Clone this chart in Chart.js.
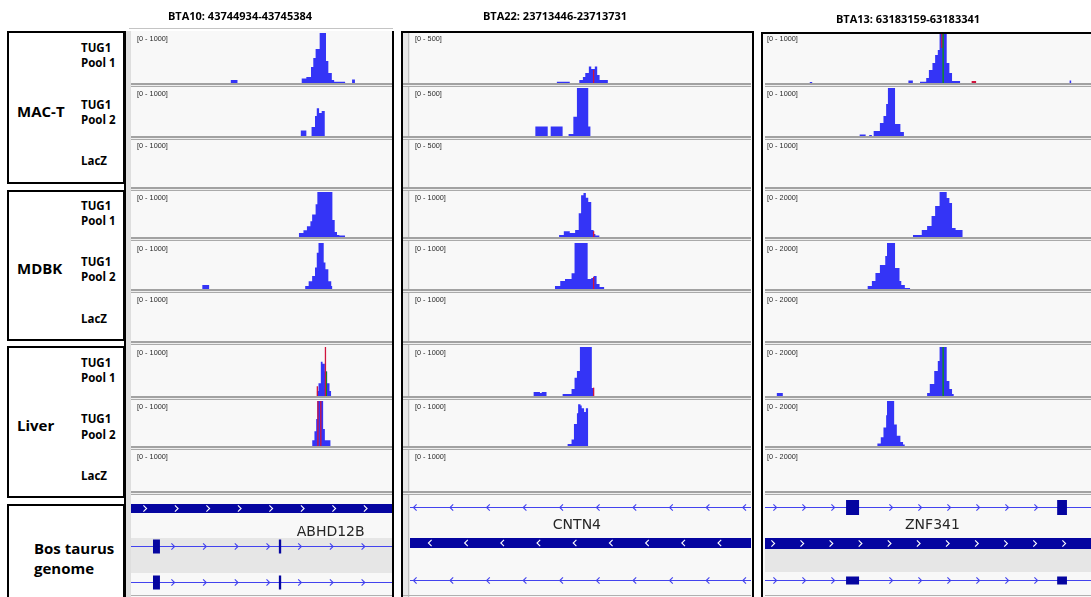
<!DOCTYPE html>
<html>
<head>
<meta charset="utf-8">
<script src="https://cdn.jsdelivr.net/npm/chart.js@4.4.1/dist/chart.umd.min.js"></script>
<style>
  html, body { margin: 0; padding: 0; background: #fff; }
  #fig { position: relative; width: 1091px; height: 597px; overflow: hidden; background: #fff; }
  .abs { position: absolute; box-sizing: border-box; }
  .t { position: absolute; white-space: nowrap; }
  canvas { position: absolute; display: block; }
</style>
</head>
<body>
<div id="fig"></div>
<script>
// ---------------- data ----------------
const REGIONS = ['BTA10: 43744934-43745384', 'BTA22: 23713446-23713731', 'BTA13: 63183159-63183341'];
const CELL_LINES = ['MAC-T', 'MDBK', 'Liver'];
const SAMPLES = [['TUG1', 'Pool 1'], ['TUG1', 'Pool 2'], ['LacZ']];
const GENOME_LABEL = ['Bos taurus', 'genome'];
const GENES = ['ABHD12B', 'CNTN4', 'ZNF341'];
const GENE_STRANDS = ['+', '-', '+'];

// data range of each track (MAC-T P1, P2, LacZ, MDBK P1, P2, LacZ, Liver P1, P2, LacZ)
const RANGES_BTA10 = [1000, 1000, 1000, 1000, 1000, 1000, 1000, 1000, 1000];
const RANGES_BTA22 = [500, 500, 500, 1000, 1000, 1000, 1000, 1000, 1000];
const RANGES_BTA13 = [1000, 1000, 1000, 2000, 2000, 2000, 2000, 2000, 2000];

// coverage profiles: [offset from region start (bp), read depth], each depth holds until the next offset
const BTA10_MACT_P1 = [[172, 60], [184, 0], [295, 90], [303, 120], [311, 320], [315, 500], [319, 680], [326, 1100], [337, 440], [341, 200], [347, 60], [351, 25], [370, 0], [382, 70], [387, 0]];
const BTA10_MACT_P2 = [[293, 115], [303, 0], [312, 190], [318, 415], [321, 580], [325, 480], [329.5, 520], [335, 0]];
const BTA10_MACT_LACZ = [];
const BTA10_MDBK_P1 = [[290, 90], [298, 150], [304, 240], [310, 350], [313, 500], [319, 730], [322, 1100], [348, 380], [352, 110], [356, 45], [360, 35], [370, 0]];
const BTA10_MDBK_P2 = [[123, 85], [135, 0], [301, 65], [307, 170], [313, 280], [318, 470], [321, 790], [324, 1100], [333, 575], [336, 430], [341, 170], [346, 65], [348, 0]];
const BTA10_MDBK_LACZ = [];
const BTA10_LIVER_P1 = [[321, 100], [324, 260], [328, 700], [331, 660], [335, 500], [339, 260], [343, 100], [346, 0]];
const BTA10_LIVER_P2 = [[313, 130], [317, 330], [320, 600], [322, 1100], [332, 380], [335, 130], [345, 0]];
const BTA10_LIVER_LACZ = [];

const BTA22_MACT_P1 = [[123, 12], [134, 0], [142, 30], [145, 60], [147, 100], [150, 165], [152, 140], [155, 165], [157, 80], [159, 30], [166, 0]];
const BTA22_MACT_P2 = [[105, 100], [115.5, 0], [118, 100], [128, 0], [133, 22], [137, 200], [140, 600], [149.5, 100], [151.5, 0]];
const BTA22_MACT_LACZ = [];
const BTA22_MDBK_P1 = [[125, 45], [129, 130], [134, 90], [138.5, 155], [141.5, 530], [143.5, 930], [145.5, 980], [147.5, 870], [149.5, 780], [152, 155], [154, 65], [155.5, 35], [159, 0]];
const BTA22_MDBK_P2 = [[121.5, 65], [126, 175], [130, 220], [135.5, 345], [138, 1100], [149, 215], [152, 240], [154, 280], [156.5, 110], [159, 45], [163, 0]];
const BTA22_MDBK_LACZ = [];
const BTA22_LIVER_P1 = [[103.5, 80], [109, 60], [110.5, 80], [114.5, 0], [128, 40], [135.5, 145], [138, 370], [140, 510], [142.5, 1100], [152.5, 165], [154.5, 0]];
const BTA22_LIVER_P2 = [[132, 45], [135.5, 145], [137.5, 490], [140, 730], [141, 930], [143, 900], [144, 840], [146, 755], [147.5, 840], [149.5, 0]];
const BTA22_LIVER_LACZ = [];

const BTA13_MACT_P1 = [[25, 20], [26.5, 0], [80.5, 50], [83, 0], [87, 25], [90.5, 100], [92, 260], [94, 400], [95.5, 560], [97, 660], [98, 1100], [102, 400], [103.5, 200], [105, 40], [109.5, 0], [171, 50], [172, 0]];
const BTA13_MACT_P2 = [[53, 30], [56.5, 0], [58.5, 20], [60, 0], [61, 105], [64.5, 270], [66.5, 415], [68, 665], [69, 1100], [73, 250], [76, 85], [78, 0]];
const BTA13_MACT_LACZ = [];
const BTA13_MDBK_P1 = [[83, 90], [88, 310], [91, 490], [93.5, 930], [95.5, 1380], [98, 2200], [102, 1730], [103.5, 1510], [105, 400], [107, 310], [111, 0]];
const BTA13_MDBK_P2 = [[57.5, 130], [60, 350], [62, 700], [64.5, 1040], [67.5, 1435], [68.5, 2200], [73, 910], [75.5, 350], [76.5, 175], [78.5, 45], [81.5, 0]];
const BTA13_MDBK_LACZ = [];
const BTA13_LIVER_P1 = [[6.5, 120], [10, 0], [91, 120], [92.5, 490], [95, 1020], [97, 1430], [98, 2200], [102, 610], [103.5, 285], [105, 80], [106, 0]];
const BTA13_LIVER_P2 = [[63, 115], [65, 385], [66.5, 820], [68, 1365], [68.5, 2200], [72.5, 955], [74, 455], [76, 180], [77.5, 70], [78.5, 0]];
const BTA13_LIVER_LACZ = [];

// mismatched bases: [start bp, end bp, depth from, depth to, base]
const MM_BTA10_LIVER_P1 = [[335.5, 336.5, 0, 1100, 'T'], [337, 338, 0, 500, 'A'], [321.5, 322.5, 0, 200, 'T']];
const MM_BTA10_LIVER_P2 = [[322.5, 323.5, 0, 1100, 'T'], [327.5, 328.5, 0, 1100, 'T']];
const MM_BTA22_MACT_P1 = [[153.5, 154.5, 0, 130, 'T']];
const MM_BTA22_MDBK_P1 = [[153.5, 154.5, 0, 130, 'T']];
const MM_BTA22_MDBK_P2 = [[153.5, 154.5, 0, 260, 'T']];
const MM_BTA22_LIVER_P1 = [[153.5, 154.5, 0, 170, 'T']];
const MM_BTA13_MACT_P1 = [[99.7, 100.3, 0, 1100, 'A'], [99.0, 99.6, 700, 1100, 'T'], [116, 118.5, 0, 40, 'T']];
const MM_BTA13_LIVER_P1 = [[99.7, 100.3, 0, 2200, 'A']];

// gene models (bp offsets within each region)
const ABHD12B_EXONS = [[38, 50], [255.5, 259.5]];
const CNTN4_EXONS = [];
const ZNF341_EXONS = [[45.5, 52.8], [164, 169.5]];
const GENE_LABEL_BP = [345, 140, 94];

// ---------------- tables built from the arrays above ----------------
const RANGES = [RANGES_BTA10, RANGES_BTA22, RANGES_BTA13];
const COVERAGE = [
  [BTA10_MACT_P1, BTA10_MACT_P2, BTA10_MACT_LACZ, BTA10_MDBK_P1, BTA10_MDBK_P2, BTA10_MDBK_LACZ, BTA10_LIVER_P1, BTA10_LIVER_P2, BTA10_LIVER_LACZ],
  [BTA22_MACT_P1, BTA22_MACT_P2, BTA22_MACT_LACZ, BTA22_MDBK_P1, BTA22_MDBK_P2, BTA22_MDBK_LACZ, BTA22_LIVER_P1, BTA22_LIVER_P2, BTA22_LIVER_LACZ],
  [BTA13_MACT_P1, BTA13_MACT_P2, BTA13_MACT_LACZ, BTA13_MDBK_P1, BTA13_MDBK_P2, BTA13_MDBK_LACZ, BTA13_LIVER_P1, BTA13_LIVER_P2, BTA13_LIVER_LACZ]
];
const MISMATCHES = [
  [[], [], [], [], [], [], MM_BTA10_LIVER_P1, MM_BTA10_LIVER_P2, []],
  [MM_BTA22_MACT_P1, [], [], MM_BTA22_MDBK_P1, MM_BTA22_MDBK_P2, [], MM_BTA22_LIVER_P1, [], []],
  [MM_BTA13_MACT_P1, [], [], [], [], [], MM_BTA13_LIVER_P1, [], []]
];
const GENE_EXONS = [ABHD12B_EXONS, CNTN4_EXONS, ZNF341_EXONS];
const REGION_LEN = REGIONS.map(s => { const m = s.match(/(\d+)-(\d+)/); return +m[2] - +m[1] + 1; });

// ---------------- styling / layout ----------------
const COV_COLOR = '#3434f6';
const BASE_COLORS = { A: '#0a9a0a', T: '#d0143c', C: '#1414d0', G: '#d18f00' };
const EXON_COLOR = '#0505a0';
const INTRON_COLOR = '#4343ee';
const TRACK_BG = '#f8f8f8';
const SEP_COLOR = '#a2a2a2';

const COL_GEOM = [
  { left: 131, right: 392, labelDx: 6, headerX: 240, headerBase: 20 },
  { left: 410, right: 751, labelDx: 5, headerX: 555, headerBase: 20 },
  { left: 765, right: 1091, labelDx: 2, headerX: 908, headerBase: 22.5 }
];
const ROWS_Y = [[33, 83], [88, 136], [140, 187], [192, 237], [243, 289], [294, 341], [347, 396], [401, 446], [451, 491]];
const GENE_TOP = 495, GENE_BOTTOM = 597;
const GENE_GEOM = [
  { band: [538, 573], thick: { y: 504, h: 9, chev0: 14, step: 31.5 },
    tx: [{ y: 546, h: 14 }, { y: 582, h: 14 }], txChev0: 42, txStep: 31.7, labelBase: 536 },
  { band: null, thick: { y: 538, h: 10, chev0: 20, step: 36.2 },
    tx: [{ y: 507, h: 0 }, { y: 580, h: 0 }], txChev0: 5, txStep: 36.6, labelBase: 529 },
  { band: [549, 572], thick: { y: 538, h: 11, chev0: 8, step: 29.1 },
    tx: [{ y: 506.5, h: 15 }, { y: 579.5, h: 8 }], txChev0: 10, txStep: 29, labelBase: 529 }
];

const fig = document.getElementById('fig');

function box(x, y, w, h, css) {
  const d = document.createElement('div');
  d.className = 'abs';
  Object.assign(d.style, { left: x + 'px', top: y + 'px', width: w + 'px', height: h + 'px' }, css || {});
  fig.appendChild(d);
  return d;
}

// baseline factor (baseline offset / font size with line-height = 1em)
const BASE_K = { 'Open Sans': 0.888, 'DejaVu Sans': 0.846, 'Liberation Sans': 0.847 };
function text(str, x, baseline, o) {
  const d = document.createElement('div');
  d.className = 't';
  d.textContent = str;
  d.style.fontFamily = `"${o.family}", sans-serif`;
  d.style.fontSize = o.size + 'px';
  d.style.fontWeight = o.weight || 400;
  d.style.lineHeight = o.size + 'px';
  d.style.color = o.color || '#000';
  d.style.left = x + 'px';
  d.style.top = (baseline - o.size * BASE_K[o.family]) + 'px';
  if (o.center) d.style.transform = 'translateX(-50%)';
  fig.appendChild(d);
  return d;
}

// ---------------- left label column ----------------
const LABEL_FONT = { family: 'Open Sans', weight: 700 };
const GROUP_BOXES = [[31, 153], [190, 151], [346, 152]];
const GROUP_BASE = [117, 274, 431];
const SAMPLE_BASES = [
  [[52, 67], [109, 124], [165]],
  [[210, 225], [266, 281], [323]],
  [[367, 382], [423, 439], [480]]
];
GROUP_BOXES.forEach((b, g) => {
  box(7, b[0], 118, b[1], { border: '2px solid #000' });
  text(CELL_LINES[g], 17, GROUP_BASE[g], { ...LABEL_FONT, size: 15 });
  SAMPLES.forEach((lines, s) => {
    lines.forEach((ln, k) => text(ln, 81, SAMPLE_BASES[g][s][k], { ...LABEL_FONT, size: 11.5 }));
  });
});
box(7, 504, 118, 110, { border: '2px solid #000' });
text(GENOME_LABEL[0], 34, 554, { ...LABEL_FONT, size: 15 });
text(GENOME_LABEL[1], 34, 574, { ...LABEL_FONT, size: 15 });

// ---------------- panel frames ----------------
box(126, 31, 266, 566, { background: TRACK_BG });
box(126, 31, 5, 566, { background: '#dedede' });
box(129, 28, 264, 1, { background: '#c4c4c4' });
box(124, 31, 2, 566, { background: '#000' });
box(392, 31, 2, 566, { background: '#000' });

box(403, 33, 349, 564, { background: TRACK_BG });
box(403, 33, 7, 564, { background: '#e8e8e8' });
box(408, 33, 1, 564, { background: '#c2c2c2' });

box(763, 34, 328, 563, { background: TRACK_BG });

// ---------------- coverage tracks ----------------
function coverageChart(canvas, c, r) {
  const L = REGION_LEN[c];
  const W = COL_GEOM[c].right - COL_GEOM[c].left;
  const pxPerBp = W / L;
  const datasets = [];
  if (COVERAGE[c][r].length) {
    datasets.push({
      type: 'line', order: 2, data: COVERAGE[c][r], stepped: true, fill: 'origin',
      backgroundColor: COV_COLOR, borderWidth: 0, pointRadius: 0
    });
  }
  // mismatch bars sit on top of the coverage fill (lower order is drawn later)
  MISMATCHES[c][r].forEach(m => {
    const xm = (m[0] + m[1]) / 2;
    datasets.push({
      type: 'line', order: 1, data: [{ x: xm, y: m[2] }, { x: xm, y: m[3] }],
      borderColor: BASE_COLORS[m[4]], borderWidth: Math.max(1.3, (m[1] - m[0]) * pxPerBp),
      borderCapStyle: 'butt', pointRadius: 0, fill: false
    });
  });
  return new Chart(canvas, {
    type: 'line',
    data: { datasets },
    options: {
      responsive: false, animation: false, events: [], devicePixelRatio: 1,
      layout: { padding: 0 },
      plugins: { legend: { display: false }, tooltip: { enabled: false } },
      scales: {
        x: { type: 'linear', min: 0, max: L, display: false },
        y: { type: 'linear', min: 0, max: RANGES[c][r], display: false }
      }
    }
  });
}

COL_GEOM.forEach((g, c) => {
  const W = g.right - g.left;
  const sepLeft = c === 1 ? 403 : g.left;
  ROWS_Y.forEach(([top, base], r) => {
    const cv = document.createElement('canvas');
    cv.width = W; cv.height = base - top;
    cv.style.left = g.left + 'px'; cv.style.top = top + 'px';
    fig.appendChild(cv);
    coverageChart(cv, c, r);
    box(sepLeft, base, g.right - sepLeft, 2, { background: SEP_COLOR });
    box(sepLeft, base + 2, g.right - sepLeft, 1, { background: '#eeeeee' });
    box(sepLeft, base + 3, g.right - sepLeft, 1, { background: '#aaaaaa' });
    text(`[0 - ${RANGES[c][r]}]`, g.left + g.labelDx, top + 8.5,
      { family: 'Liberation Sans', size: 7.3, color: '#2a2a2a' });
  });
  box(sepLeft, 595, g.right - sepLeft, 1, { background: '#b0b0b0' });
  text(REGIONS[c], g.headerX, g.headerBase, { ...LABEL_FONT, size: 11, center: true });
});

// ---------------- gene annotation tracks ----------------
function chevron(ctx, x, y, dir, color) {
  ctx.beginPath();
  ctx.moveTo(x - 1.6 * dir, y - 3.2);
  ctx.lineTo(x + 1.6 * dir, y);
  ctx.lineTo(x - 1.6 * dir, y + 3.2);
  ctx.strokeStyle = color;
  ctx.lineWidth = 1.1;
  ctx.stroke();
}

function geneModelPlugin(c) {
  const geo = GENE_GEOM[c];
  return {
    id: 'geneModel' + c,
    beforeDatasetsDraw(chart) {
      const ctx = chart.ctx, xs = chart.scales.x, ys = chart.scales.y;
      const L = xs.left, R = xs.right;
      const Y = v => ys.getPixelForValue(v);
      const dir = GENE_STRANDS[c] === '+' ? 1 : -1;
      const exons = GENE_EXONS[c].map(e => [xs.getPixelForValue(e[0]), xs.getPixelForValue(e[1])]);
      ctx.save();
      if (geo.band) {
        ctx.fillStyle = '#e6e6e6';
        ctx.fillRect(L, Y(geo.band[0]), R - L, Y(geo.band[1]) - Y(geo.band[0]));
      }
      // collapsed gene body
      const x0 = xs.getPixelForValue(0), x1 = xs.getPixelForValue(REGION_LEN[c]);
      const ty = Y(geo.thick.y);
      ctx.fillStyle = EXON_COLOR;
      ctx.fillRect(x0, ty, x1 - x0, geo.thick.h);
      for (let x = L + geo.thick.chev0; x < R - 2; x += geo.thick.step) {
        chevron(ctx, x, ty + geo.thick.h / 2, dir, '#ffffff');
      }
      // transcripts
      geo.tx.forEach(tx => {
        const yc = Math.round(Y(tx.y)) + 0.5;
        ctx.beginPath();
        ctx.moveTo(L, yc); ctx.lineTo(R, yc);
        ctx.strokeStyle = INTRON_COLOR; ctx.lineWidth = 1; ctx.stroke();
        for (let x = L + geo.txChev0; x < R; x += geo.txStep) {
          if (tx.h && exons.some(e => x > e[0] - 6 && x < e[1] + 6)) continue;
          chevron(ctx, x, yc, dir, INTRON_COLOR);
        }
        if (tx.h) {
          ctx.fillStyle = EXON_COLOR;
          exons.forEach(e => ctx.fillRect(e[0], yc - tx.h / 2, Math.max(2, e[1] - e[0]), tx.h));
        }
      });
      ctx.restore();
    }
  };
}

COL_GEOM.forEach((g, c) => {
  const W = g.right - g.left;
  const cv = document.createElement('canvas');
  cv.width = W; cv.height = GENE_BOTTOM - GENE_TOP;
  cv.style.left = g.left + 'px'; cv.style.top = GENE_TOP + 'px';
  fig.appendChild(cv);
  const chart = new Chart(cv, {
    type: 'line',
    data: { datasets: [] },
    plugins: [geneModelPlugin(c)],
    options: {
      responsive: false, animation: false, events: [], devicePixelRatio: 1,
      layout: { padding: 0 },
      plugins: { legend: { display: false }, tooltip: { enabled: false } },
      scales: {
        x: { type: 'linear', min: 0, max: REGION_LEN[c], display: false },
        y: { type: 'linear', min: GENE_TOP, max: GENE_BOTTOM, reverse: true, display: false }
      }
    }
  });
  const lx = g.left + chart.scales.x.getPixelForValue(GENE_LABEL_BP[c]);
  text(GENES[c], lx, GENE_GEOM[c].labelBase, { family: 'DejaVu Sans', size: 14, color: '#262626', center: true });
});

// outer frames drawn last so they sit on top
box(401, 31, 353, 580, { border: '2px solid #000' });
box(761, 32, 340, 580, { border: '2px solid #000' });
</script>
</body>
</html>
